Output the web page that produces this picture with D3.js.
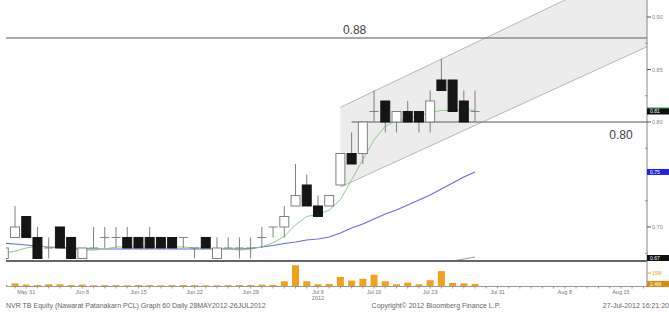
<!DOCTYPE html>
<html lang="en">
<head>
<meta charset="UTF-8">
<title>NVR TB Equity | Graph 60</title>
<script src="https://d3js.org/d3.v7.min.js"></script>
<style>
    body { margin: 0; background: #fff; font-family: Arial, "Liberation Sans", sans-serif; }
    svg { display: block; }
</style>
</head>
<body>
<div id="container"></div>
<script>
// trading days on the axis (candles run May 29 - Jul 27, the rest is empty space on the right)
const dates = ['May 29','May 30','May 31','Jun 1','Jun 5','Jun 6','Jun 7','Jun 8','Jun 11','Jun 12',
    'Jun 13','Jun 14','Jun 15','Jun 18','Jun 19','Jun 20','Jun 21','Jun 22','Jun 25','Jun 26',
    'Jun 27','Jun 28','Jun 29','Jul 2','Jul 3','Jul 4','Jul 5','Jul 6','Jul 9','Jul 10',
    'Jul 11','Jul 12','Jul 13','Jul 16','Jul 17','Jul 18','Jul 19','Jul 20','Jul 23','Jul 24',
    'Jul 25','Jul 26','Jul 27','Jul 30','Jul 31','Aug 1','Aug 2','Aug 3','Aug 6','Aug 7',
    'Aug 8','Aug 9','Aug 10','Aug 13','Aug 14','Aug 15','Aug 16','Aug 17','Aug 20'];

const opens  = [0.67,0.69,0.71,0.69,0.68,0.70,0.69,0.67,0.68,0.69,0.69,0.69,0.69,0.69,0.69,0.69,0.69,0.68,0.69,0.67,
                0.68,0.68,0.68,0.69,0.70,0.70,0.72,0.74,0.72,0.72,0.74,0.77,0.77,0.81,0.82,0.80,0.81,0.81,0.80,0.84,
                0.84,0.82,0.81];
const highs  = [0.68,0.72,0.71,0.70,0.69,0.70,0.69,0.68,0.70,0.70,0.70,0.70,0.69,0.70,0.69,0.69,0.69,0.68,0.69,0.69,
                0.69,0.69,0.69,0.70,0.70,0.72,0.76,0.75,0.73,0.73,0.77,0.79,0.80,0.83,0.82,0.81,0.82,0.81,0.83,0.86,
                0.84,0.83,0.83];
const lows   = [0.67,0.69,0.69,0.67,0.67,0.68,0.67,0.67,0.68,0.68,0.68,0.68,0.68,0.68,0.68,0.68,0.68,0.67,0.68,0.67,
                0.68,0.67,0.67,0.68,0.69,0.69,0.72,0.72,0.71,0.72,0.74,0.76,0.76,0.80,0.79,0.79,0.80,0.79,0.79,0.83,
                0.81,0.80,0.80];
const closes = [0.68,0.70,0.69,0.67,0.68,0.68,0.67,0.68,0.68,0.69,0.69,0.68,0.68,0.68,0.68,0.68,0.69,0.68,0.68,0.68,
                0.68,0.68,0.68,0.69,0.70,0.71,0.73,0.72,0.71,0.73,0.77,0.76,0.80,0.81,0.80,0.81,0.80,0.80,0.82,0.83,
                0.81,0.80,0.81];
// volume, millions of shares
const volumes = [1.5,3.1,1.6,1.2,2.0,2.0,1.2,1.6,0.8,1.0,1.0,0.8,1.2,1.0,0.8,1.0,1.2,1.0,0.8,0.8,
                 1.0,1.2,1.2,1.6,1.2,5.5,24,5.5,2.0,2.4,10.6,6.3,8.3,13,5.5,2.0,3.9,2.0,6.7,17.3,
                 3.5,3.1,2.4];
// short (green) and long (blue) moving averages
const maShort = [0.675,0.677,0.680,0.682,0.681,0.680,0.679,0.678,0.678,0.679,0.681,0.681,0.681,0.681,0.681,0.681,
                 0.681,0.680,0.680,0.679,0.679,0.678,0.679,0.681,0.685,0.691,0.702,0.710,0.712,0.716,0.726,0.745,
                 0.764,0.783,0.796,0.801,0.803,0.806,0.809,0.811,0.811,0.812,0.811];
const maLong  = [0.6845,0.6838,0.6829,0.6819,0.681,0.6805,0.680,0.6795,0.679,0.679,0.679,0.679,0.679,0.679,0.679,
                 0.679,0.679,0.679,0.679,0.679,0.679,0.679,0.6795,0.681,0.6824,0.6843,0.6857,0.6876,0.6886,0.6905,
                 0.6943,0.699,0.7029,0.7076,0.7124,0.7162,0.721,0.7257,0.7305,0.7362,0.7419,0.7476,0.7524];

// trend channel (upper / lower line), drawn between two dates
const channelDates = ['Jul 11', 'Aug 20'];
const channelUpper = [0.814, 0.957];
const channelLower = [0.738, 0.875];
const supportDates = ['Jul 25', 'Jul 27'];
const supportLine  = [0.6676, 0.6714];

const levelValues = [0.88, 0.80];
const levelStart  = ['May 29', 'Jul 12'];
const levelLabelDates = ['Jul 12', 'Aug 15'];

const tickLabels = ['May 31','Jun 8','Jun 15','Jun 22','Jun 29','Jul 9','Jul 16','Jul 23','Jul 31','Aug 8','Aug 15'];
const priceTicks = [0.70, 0.75, 0.80, 0.85, 0.90];
const priceMinor = [0.675, 0.725, 0.775, 0.825, 0.875];
const volTicks = [15];

// value tags on the right axis
const tagValues = [0.811, 0.81, 0.7524, 0.67];
const tagTexts  = ['0.81', '0.81', '0.75', '0.67'];
const tagColors = ['#2fb74a', '#111', '#2222ee', '#111'];

const W = 669, H = 312;
const left = 6, right = 647;
const priceBottom = 261, volTop = 262, volBase = 286;

const svg = d3.select('#container').append('svg')
    .attr('width', W).attr('height', H);

const x = d3.scalePoint().domain(dates).range([3.8, 3.8 + 58 * 11.22]);
const y = d3.scaleLinear().domain([0.6676, 0.9162]).range([priceBottom, 0]);
const yVol = d3.scaleLinear().domain([0, 24]).range([volBase, 265.3]);
const step = x.step();

svg.append('clipPath').attr('id', 'clipPrice')
    .append('rect').attr('x', left).attr('y', 0).attr('width', right - left).attr('height', priceBottom);
svg.append('clipPath').attr('id', 'clipVol')
    .append('rect').attr('x', left).attr('y', volTop).attr('width', right - left).attr('height', volBase - volTop);

const price = svg.append('g').attr('clip-path', 'url(#clipPrice)');

// channel fill
const chPoly = [
    [x(channelDates[0]), y(channelUpper[0])],
    [x(channelDates[1]), y(channelUpper[1])],
    [x(channelDates[1]), y(channelLower[1])],
    [x(channelDates[0]), y(channelLower[0])]
];
price.append('polygon')
    .attr('points', chPoly.map(p => p.join(',')).join(' '))
    .attr('fill', '#ececec');

[channelUpper, channelLower].forEach(vals => {
    price.append('line')
        .attr('x1', x(channelDates[0])).attr('y1', y(vals[0]))
        .attr('x2', x(channelDates[1])).attr('y2', y(vals[1]))
        .attr('stroke', '#b8b8b8').attr('stroke-width', 1);
});
price.append('line')
    .attr('x1', x(supportDates[0])).attr('y1', y(supportLine[0]))
    .attr('x2', x(supportDates[1])).attr('y2', y(supportLine[1]))
    .attr('stroke', '#999').attr('stroke-width', 1);

// horizontal levels
levelValues.forEach((v, i) => {
    price.append('line')
        .attr('x1', Math.max(left, x(levelStart[i]))).attr('x2', right)
        .attr('y1', y(v)).attr('y2', y(v))
        .attr('stroke', '#8c8c8c').attr('stroke-width', 1.6);
});
svg.append('text').attr('x', x(levelLabelDates[0]) + 3).attr('y', y(levelValues[0]) - 4)
    .attr('text-anchor', 'middle').attr('font-size', 12).attr('fill', '#444')
    .text(levelValues[0].toFixed(2));
svg.append('text').attr('x', x(levelLabelDates[1])).attr('y', y(levelValues[1]) + 17)
    .attr('text-anchor', 'middle').attr('font-size', 12).attr('fill', '#444')
    .text(levelValues[1].toFixed(2));

// moving averages
const n = opens.length;
const maLine = d3.line().x((d, i) => x(dates[i])).y(d => y(d));
price.append('path').datum(maLong).attr('d', maLine)
    .attr('fill', 'none').attr('stroke', '#6a6ae6').attr('stroke-width', 1.1);
price.append('path').datum(maShort).attr('d', maLine)
    .attr('fill', 'none').attr('stroke', '#86cf86').attr('stroke-width', 1);

// candles
const candles = opens.map((o, i) => ({ date: dates[i], o: o, h: highs[i], l: lows[i], c: closes[i] }));
const bw = step * 0.8;

price.selectAll('.wick').data(candles).enter().append('line')
    .attr('x1', d => x(d.date)).attr('x2', d => x(d.date))
    .attr('y1', d => y(d.h)).attr('y2', d => y(d.l))
    .attr('stroke', '#808080').attr('stroke-width', 1);

price.selectAll('.body').data(candles.filter(d => d.o !== d.c)).enter().append('rect')
    .attr('x', d => x(d.date) - bw / 2)
    .attr('y', d => y(Math.max(d.o, d.c)))
    .attr('width', bw)
    .attr('height', d => Math.abs(y(d.o) - y(d.c)))
    .attr('fill', d => d.c > d.o ? '#fff' : '#151515')
    .attr('stroke', d => d.c > d.o ? '#808080' : '#151515')
    .attr('stroke-width', 1);

price.selectAll('.doji').data(candles.filter(d => d.o === d.c)).enter().append('line')
    .attr('x1', d => x(d.date) - bw / 2).attr('x2', d => x(d.date) + bw / 2)
    .attr('y1', d => y(d.c)).attr('y2', d => y(d.c))
    .attr('stroke', '#808080').attr('stroke-width', 1);

// panel separator
svg.append('line').attr('x1', left).attr('x2', right)
    .attr('y1', priceBottom).attr('y2', priceBottom)
    .attr('stroke', '#666').attr('stroke-width', 2);

// volume bars
svg.append('g').attr('clip-path', 'url(#clipVol)')
    .selectAll('rect').data(volumes).enter().append('rect')
    .attr('x', (d, i) => x(dates[i]) - 3.5)
    .attr('y', d => yVol(d))
    .attr('width', 7)
    .attr('height', d => volBase - yVol(d))
    .attr('fill', '#f0a21e');

// date axis
svg.append('line').attr('x1', left).attr('x2', right)
    .attr('y1', volBase + 0.5).attr('y2', volBase + 0.5)
    .attr('stroke', '#999').attr('stroke-width', 1);
svg.selectAll('.dtick').data(dates.filter(d => x(d) >= left && x(d) <= right)).enter().append('line')
    .attr('x1', d => x(d)).attr('x2', d => x(d))
    .attr('y1', volBase).attr('y2', volBase + 2.5)
    .attr('stroke', '#999').attr('stroke-width', 1);
svg.selectAll('.dlabel').data(tickLabels).enter().append('text')
    .attr('x', d => x(d)).attr('y', volBase + 8)
    .attr('text-anchor', 'middle').attr('font-size', 5.5).attr('fill', '#777')
    .text(d => d);
svg.append('text').attr('x', x('Jul 9')).attr('y', volBase + 14)
    .attr('text-anchor', 'middle').attr('font-size', 5.5).attr('fill', '#777').text('2012');

// right axis
svg.append('line').attr('x1', right).attr('x2', right).attr('y1', 0).attr('y2', volBase + 1)
    .attr('stroke', '#888').attr('stroke-width', 1);
svg.selectAll('.ptick').data(priceTicks).enter().append('line')
    .attr('x1', right).attr('x2', right + 4).attr('y1', d => y(d)).attr('y2', d => y(d))
    .attr('stroke', '#555').attr('stroke-width', 1);
svg.selectAll('.pminor').data(priceMinor).enter().append('line')
    .attr('x1', right - 2).attr('x2', right + 1).attr('y1', d => y(d)).attr('y2', d => y(d))
    .attr('stroke', '#999').attr('stroke-width', 1);
// a label hidden under a value tag is not drawn
const freeTicks = priceTicks.filter(t => !tagValues.some(v => Math.abs(y(v) - y(t)) < 6));
svg.selectAll('.plabel').data(freeTicks).enter().append('text')
    .attr('x', right + 5).attr('y', d => y(d) + 2)
    .attr('font-size', 5.5).attr('fill', '#888')
    .text(d => d.toFixed(2));

// value tags
tagValues.forEach((v, i) => {
    const ty = Math.min(y(v), priceBottom - 3);
    svg.append('rect').attr('x', right).attr('y', ty - 3).attr('width', W - right).attr('height', 6)
        .attr('fill', tagColors[i]);
    svg.append('text').attr('x', right + 3).attr('y', ty + 2)
        .attr('font-size', 5).attr('fill', '#fff').text(tagTexts[i]);
});

// volume axis labels
svg.selectAll('.vtick').data(volTicks).enter().append('line')
    .attr('x1', right).attr('x2', right + 4).attr('y1', d => yVol(d)).attr('y2', d => yVol(d))
    .attr('stroke', '#f0a21e');
svg.selectAll('.vlabel').data(volTicks).enter().append('text')
    .attr('x', right + 5).attr('y', d => yVol(d) + 2)
    .attr('font-size', 5).attr('fill', '#f0a21e').text(d => d + 'M');
svg.append('rect').attr('x', right).attr('y', yVol(volumes[n - 1]) - 3).attr('width', W - right).attr('height', 6)
    .attr('fill', '#d98c10');
svg.append('text').attr('x', right + 3).attr('y', yVol(volumes[n - 1]) + 2)
    .attr('font-size', 5).attr('fill', '#fff').text(volumes[n - 1].toFixed(1) + 'M');

// footer
svg.append('text').attr('x', 6).attr('y', 308).attr('font-size', 7).attr('fill', '#666')
    .text('NVR TB Equity (Nawarat Patanakarn PCL) Graph 60  Daily 28MAY2012-26JUL2012');
svg.append('text').attr('x', 436).attr('y', 308).attr('text-anchor', 'middle').attr('font-size', 7).attr('fill', '#666')
    .text('Copyright\u00a9 2012 Bloomberg Finance L.P.');
svg.append('text').attr('x', 669).attr('y', 308).attr('text-anchor', 'end').attr('font-size', 7).attr('fill', '#666')
    .text('27-Jul-2012 16:21:20');
</script>
</body>
</html>
